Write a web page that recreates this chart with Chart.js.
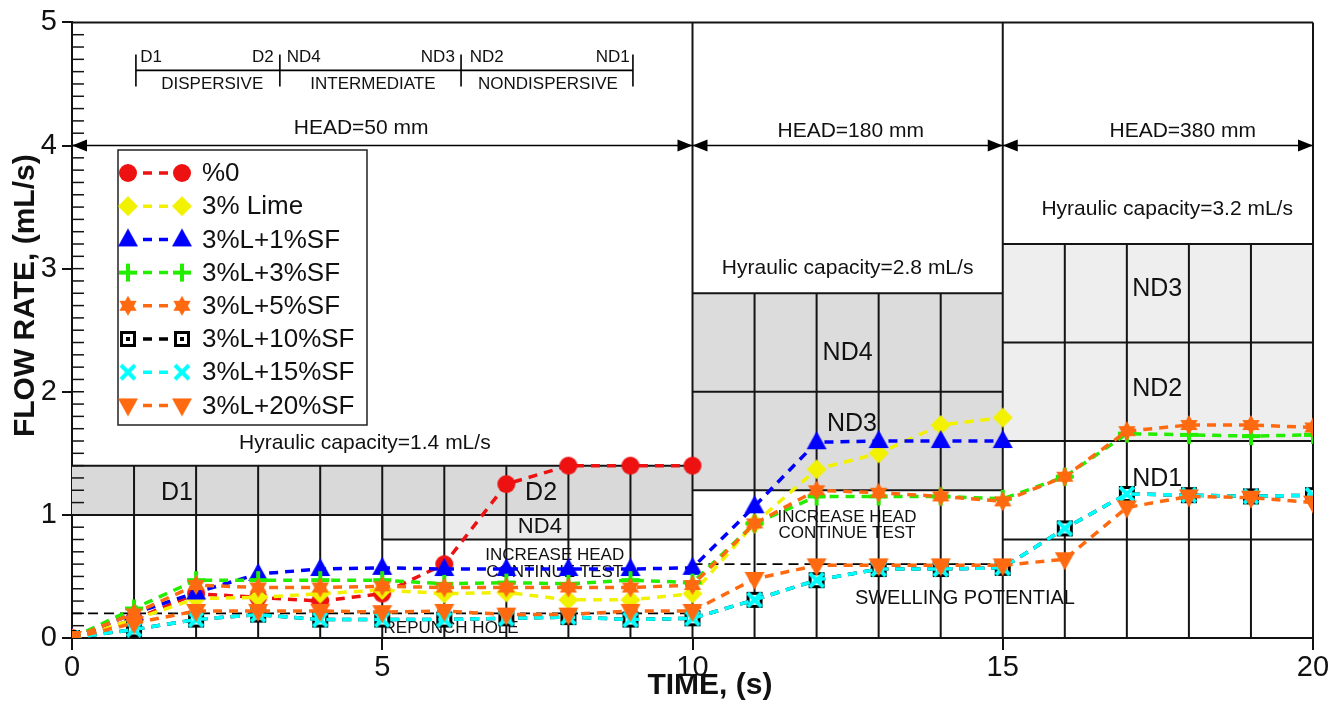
<!DOCTYPE html>
<html><head><meta charset="utf-8">
<script src="https://cdn.jsdelivr.net/npm/chart.js@4.4.1/dist/chart.umd.min.js"></script>
<style>html,body{margin:0;padding:0;background:#fff;}#wrap{width:1340px;height:718px;}</style>
</head><body><div id="wrap"><canvas id="c" width="1340" height="718"></canvas></div>
<script>
// ---------- data ----------
const timeS = [0,1,2,3,4,5,6,7,8,9,10,11,12,13,14,15,16,17,18,19,20];
const seriesLabels = ['%0','3% Lime','3%L+1%SF','3%L+3%SF','3%L+5%SF','3%L+10%SF','3%L+15%SF','3%L+20%SF'];
const flowPct0   = [0,0.15,0.36,0.33,0.30,0.36,0.60,1.25,1.40,1.40,1.40];
const flowLime   = [0,0.15,0.32,0.33,0.36,0.39,0.36,0.37,0.31,0.31,0.36,0.93,1.37,1.50,1.73,1.79];
const flowSF1    = [0,0.20,0.37,0.52,0.56,0.57,0.56,0.56,0.56,0.56,0.57,1.07,1.59,1.60,1.60,1.60];
const flowSF3    = [0,0.24,0.47,0.47,0.47,0.47,0.44,0.45,0.44,0.47,0.45,0.93,1.15,1.15,1.15,1.13,1.31,1.66,1.65,1.64,1.65];
const flowSF5    = [0,0.20,0.43,0.41,0.41,0.42,0.41,0.41,0.41,0.41,0.43,0.93,1.20,1.18,1.15,1.11,1.31,1.68,1.73,1.73,1.71];
const flowSF10   = [0,0.07,0.15,0.19,0.15,0.15,0.15,0.16,0.17,0.15,0.16,0.31,0.47,0.56,0.56,0.57,0.89,1.17,1.16,1.15,1.16];
const flowSF15   = [0,0.07,0.15,0.19,0.15,0.15,0.15,0.16,0.17,0.15,0.16,0.31,0.47,0.56,0.56,0.57,0.89,1.17,1.16,1.15,1.16];
const flowSF20   = [0,0.12,0.22,0.22,0.22,0.21,0.22,0.19,0.19,0.22,0.22,0.48,0.59,0.59,0.59,0.59,0.64,1.06,1.15,1.14,1.10];
const xTickLabels = ['0','5','10','15','20'];
const yTickLabels = ['0','1','2','3','4','5'];
const xTitle = 'TIME, (s)';
const yTitle = 'FLOW RATE, (mL/s)';

const seriesValues = [flowPct0, flowLime, flowSF1, flowSF3, flowSF5, flowSF10, flowSF15, flowSF20];
const seriesColors = ['#ee1111','#f2f200','#0000ff','#22ee00','#ff6a10','#000000','#00ffff','#ff6a10'];
const seriesMarkers = ['circle','diamond','tri','plus','hex','sqdot','x','tridown'];

const FONT = '"Liberation Sans", Arial, sans-serif';

function makeMarker(kind, color){
  const s = 26, m = s/2;
  const c = document.createElement('canvas'); c.width = s; c.height = s;
  const g = c.getContext('2d');
  g.fillStyle = color; g.strokeStyle = color; g.lineCap = 'butt';
  g.beginPath();
  switch(kind){
    case 'circle': g.arc(m,m,9,0,Math.PI*2); g.fill(); break;
    case 'diamond': g.moveTo(m,m-10); g.lineTo(m+10,m); g.lineTo(m,m+10); g.lineTo(m-10,m); g.closePath(); g.fill(); break;
    case 'tri': g.moveTo(m,m-11); g.lineTo(m+10,m+7); g.lineTo(m-10,m+7); g.closePath(); g.fill(); break;
    case 'tridown': g.moveTo(m,m+11); g.lineTo(m+10,m-7); g.lineTo(m-10,m-7); g.closePath(); g.fill(); break;
    case 'plus': g.lineWidth = 4; g.moveTo(m-9,m); g.lineTo(m+9,m); g.moveTo(m,m-9); g.lineTo(m,m+9); g.stroke(); break;
    case 'x': g.lineWidth = 4; g.moveTo(m-7,m-7); g.lineTo(m+7,m+7); g.moveTo(m+7,m-7); g.lineTo(m-7,m+7); g.stroke(); break;
    case 'hex': {
      const r = 10;
      for (const off of [-Math.PI/2, Math.PI/2]) {
        g.beginPath();
        for (let k=0;k<3;k++){ const a = off + k*2*Math.PI/3; const px = m + r*Math.cos(a), py = m + r*Math.sin(a); if(k===0) g.moveTo(px,py); else g.lineTo(px,py); }
        g.closePath(); g.fill();
      }
      break;
    }
    case 'sqdot':
      g.fillStyle = '#000'; g.fillRect(m-8,m-8,16,16);
      g.fillStyle = '#fff'; g.fillRect(m-5,m-5,10,10);
      g.fillStyle = '#000'; g.fillRect(m-2,m-2,4,4); break;
  }
  return c;
}
const markerImgs = seriesMarkers.map((k,i)=>makeMarker(k, seriesColors[i]));

const datasets = seriesLabels.map((lab,i)=>({
  label: lab,
  data: seriesValues[i].map((v,j)=>({x: timeS[j], y: v})),
  borderColor: seriesColors[i],
  backgroundColor: seriesColors[i],
  borderWidth: 3.5,
  borderDash: [9,7],
  pointStyle: markerImgs[i],
  pointRadius: 10,
  pointHoverRadius: 10,
  tension: 0,
  fill: false,
  order: seriesLabels.length - i
}));

// ---------- decorations ----------
const decoPlugin = {
  id: 'deco',
  beforeDatasetsDraw(chart){
    const {ctx} = chart; const xs = chart.scales.x, ys = chart.scales.y;
    const X = v => xs.getPixelForValue(v), Y = v => ys.getPixelForValue(v);
    ctx.save();
    const rect = (x0,x1,y0,y1,col)=>{ ctx.fillStyle = col; ctx.fillRect(X(x0), Y(y1), X(x1)-X(x0), Y(y0)-Y(y1)); };
    rect(0,10,1.0,1.4,'#d9d9d9');
    rect(5,10,0.8,1.0,'#ebebeb');
    rect(10,15,1.2,2.8,'#dcdcdc');
    rect(15,20,1.6,3.2,'#eeeeee');
    ctx.strokeStyle = '#141414'; ctx.lineWidth = 2;
    const hl = (x0,x1,y)=>{ ctx.beginPath(); ctx.moveTo(X(x0),Y(y)); ctx.lineTo(X(x1),Y(y)); ctx.stroke(); };
    const vl = (x,y0,y1)=>{ ctx.beginPath(); ctx.moveTo(X(x),Y(y0)); ctx.lineTo(X(x),Y(y1)); ctx.stroke(); };
    hl(0,10,1.4); hl(0,10,1.0); hl(5,10,0.8); vl(5,0.8,1.0);
    for (let t=1;t<10;t++) vl(t,0,1.4);
    hl(10,15,2.8); hl(10,15,2.0); hl(10,15,1.2);
    for (let t=11;t<15;t++) vl(t,0,2.8);
    hl(15,20,3.2); hl(15,20,2.4); hl(15,20,1.6); hl(15,20,0.8);
    for (let t=16;t<20;t++) vl(t,0,3.2);
    vl(10,0,5); vl(15,0,5); vl(20,0,5); hl(0,20,5);
    ctx.lineWidth = 1.5;
    for (let k=1;k<50;k++){ const y = Y(k/10); ctx.beginPath(); ctx.moveTo(X(0), y); ctx.lineTo(X(0)+12, y); ctx.stroke(); }
    ctx.setLineDash([10,6]); ctx.lineWidth = 1.6; ctx.strokeStyle = '#000';
    hl(0,10,0.2); hl(10,15,0.6);
    ctx.setLineDash([]);
    ctx.lineWidth = 1.6; ctx.fillStyle = '#000';
    const arrow = (x0,x1,y)=>{
      const a = X(x0), b = X(x1), yy = Y(y);
      ctx.beginPath(); ctx.moveTo(a,yy); ctx.lineTo(b,yy); ctx.stroke();
      ctx.beginPath(); ctx.moveTo(a,yy); ctx.lineTo(a+15,yy-6); ctx.lineTo(a+15,yy+6); ctx.closePath(); ctx.fill();
      ctx.beginPath(); ctx.moveTo(b,yy); ctx.lineTo(b-15,yy-6); ctx.lineTo(b-15,yy+6); ctx.closePath(); ctx.fill();
    };
    arrow(0,10,4); arrow(10,15,4); arrow(15,20,4);
    ctx.lineWidth = 1.6;
    hl(1.03,9.04,4.61);
    for (const t of [1.03,3.35,6.27,9.04]) vl(t,4.48,4.74);
    ctx.fillStyle = '#111'; ctx.textBaseline = 'middle';
    const txt = (s,x,y,size,align='center')=>{ ctx.font = size+'px '+FONT; ctx.textAlign = align; ctx.fillText(s, X(x), Y(y)); };
    txt('D1',1.1,4.72,17,'left'); txt('D2',3.25,4.72,17,'right');
    txt('ND4',3.46,4.72,17,'left'); txt('ND3',6.17,4.72,17,'right');
    txt('ND2',6.41,4.72,17,'left'); txt('ND1',8.99,4.72,17,'right');
    txt('DISPERSIVE',2.26,4.5,17); txt('INTERMEDIATE',4.85,4.5,17); txt('NONDISPERSIVE',7.67,4.5,17);
    txt('HEAD=50 mm',4.66,4.14,21); txt('HEAD=180 mm',12.55,4.12,21); txt('HEAD=380 mm',17.9,4.12,21);
    txt('Hyraulic capacity=1.4 mL/s',4.72,1.58,21);
    txt('Hyraulic capacity=2.8 mL/s',12.5,3.0,21);
    txt('Hyraulic capacity=3.2 mL/s',17.65,3.48,21);
    txt('D1',1.69,1.18,25); txt('D2',7.56,1.18,25); txt('ND4',7.54,0.9,22);
    txt('ND4',12.5,2.31,25); txt('ND3',12.57,1.74,25);
    txt('ND3',17.49,2.83,25); txt('ND2',17.49,2.02,25); txt('ND1',17.49,1.29,25);
    txt('INCREASE HEAD',7.78,0.67,17); txt('CONTINUE TEST',7.78,0.53,17);
    txt('INCREASE HEAD',12.49,0.98,17); txt('CONTINUE TEST',12.49,0.85,17);
    txt('REPUNCH HOLE',6.11,0.08,17);
    txt('SWELLING POTENTIAL',14.39,0.32,20);
    // axis titles
    ctx.font = 'bold 30px '+FONT; ctx.textAlign = 'center'; ctx.textBaseline = 'middle';
    ctx.fillText(xTitle, X(10.28), 686);
    ctx.save(); ctx.translate(26, Y(2.78)); ctx.rotate(-Math.PI/2); ctx.fillText(yTitle, 0, 0); ctx.restore();
    ctx.restore();
  },
  afterDatasetsDraw(chart){
    const {ctx} = chart;
    ctx.save();
    const left = 118, top = 150, w = 249, h = 275;
    ctx.fillStyle = '#fff'; ctx.fillRect(left, top, w, h);
    ctx.strokeStyle = '#222'; ctx.lineWidth = 1.5; ctx.strokeRect(left, top, w, h);
    chart.data.datasets.forEach((ds,i)=>{
      const y = 173 + i*33.2;
      const img = ds.pointStyle;
      ctx.drawImage(img, 128 - img.width/2, y - img.height/2);
      ctx.drawImage(img, 182 - img.width/2, y - img.height/2);
      ctx.strokeStyle = ds.borderColor; ctx.lineWidth = 3.5; ctx.setLineDash([9,7]);
      ctx.beginPath(); ctx.moveTo(143,y); ctx.lineTo(172,y); ctx.stroke(); ctx.setLineDash([]);
      ctx.fillStyle = '#111'; ctx.font = '26px '+FONT; ctx.textAlign = 'left'; ctx.textBaseline = 'middle';
      ctx.fillText(ds.label, 202, y+1);
    });
    ctx.restore();
  }
};

new Chart(document.getElementById('c'), {
  type: 'line',
  data: { datasets },
  plugins: [decoPlugin],
  options: {
    responsive: false, animation: false, devicePixelRatio: 1,
    layout: { padding: { top: 18, right: 27, left: 0, bottom: 0 } },
    plugins: { legend: { display: false }, tooltip: { enabled: false } },
    scales: {
      x: {
        type: 'linear', min: 0, max: 20,
        afterFit(s){ s.height = 80; },
        afterBuildTicks(s){ s.ticks = xTickLabels.map(v=>({value: +v})); },
        ticks: { font: { size: 29, family: FONT }, color: '#111', padding: 1, maxRotation: 0,
                 callback: v => xTickLabels.includes(String(v)) ? String(v) : '' },
        grid: { drawOnChartArea: false, tickLength: 12, color: '#111', lineWidth: 2 },
        border: { color: '#111', width: 2 },
        title: { display: false }
      },
      y: {
        min: 0, max: 5,
        afterFit(s){ s.width = 72; },
        afterBuildTicks(s){ s.ticks = yTickLabels.map(v=>({value: +v})); },
        ticks: { font: { size: 29, family: FONT }, color: '#111', padding: 5,
                 callback: v => yTickLabels.includes(String(v)) ? String(v) : '' },
        grid: { drawOnChartArea: false, tickLength: 10, color: '#111', lineWidth: 2 },
        border: { color: '#111', width: 2 },
        title: { display: false }
      }
    }
  }
});
</script>
</body></html>
